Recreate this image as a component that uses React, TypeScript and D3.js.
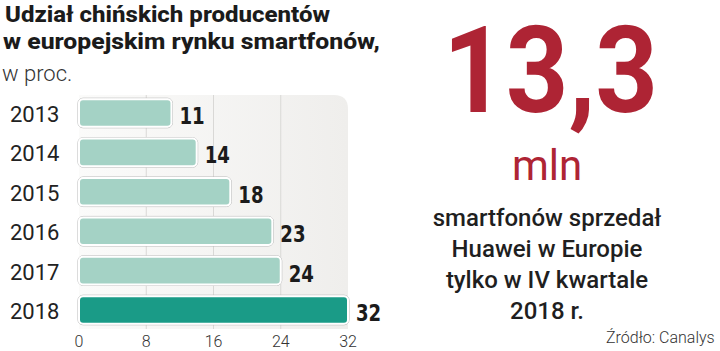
import React from "react";
import * as d3 from "d3";

const years = ["2013", "2014", "2015", "2016", "2017", "2018"];
const shares = [11, 14, 18, 23, 24, 32];
const xTicks = [0, 8, 16, 24, 32];
const titleLines = ["Udział chińskich producentów", "w europejskim rynku smartfonów,"];
const subtitle = "w proc.";
const bigNumber = "13,3";
const bigUnit = "mln";
const noteLines = ["smartfonów sprzedał", "Huawei w Europie", "tylko w IV kwartale", "2018 r."];
const source = "Źródło: Canalys";

const W = 720;
const H = 351;

export default function App() {
  const x = d3.scaleLinear().domain([0, 32]).range([79, 348]);
  const y = d3
    .scaleBand<string>()
    .domain(years)
    .range([93.3, 329.7])
    .paddingInner(0.3)
    .paddingOuter(0.15);

  const panelTop = 95;
  const panelBottom = 329;
  const x0 = x(0);
  const x1 = x(32);
  const r = 14;
  const panelPath =
    `M${x0},${panelTop} H${x1 - r} Q${x1},${panelTop} ${x1},${panelTop + r} ` +
    `V${panelBottom} H${x0} Z`;

  const sans = "Roboto, 'Noto Sans', sans-serif";
  const narrow = "'Liberation Sans Narrow', 'DejaVu Sans Condensed', sans-serif";
  const red = "#ae2434";

  return (
    <svg
      width={W}
      height={H}
      style={{ position: "absolute", left: 0, top: 0, background: "#fff" }}
    >
      <defs>
        <linearGradient id="panelGrad" x1="0" x2="1" y1="0" y2="0">
          <stop offset="0" stopColor="#fbfbfa" />
          <stop offset="1" stopColor="#efeeec" />
        </linearGradient>
      </defs>

      {/* title */}
      <g fontFamily={sans} fill="#1b1b1b">
        <text x={5} y={22} fontSize={22} fontWeight={800} textLength={325} lengthAdjust="spacingAndGlyphs">
          {titleLines[0]}
        </text>
        <text x={3} y={49} fontSize={22} fontWeight={800} textLength={377} lengthAdjust="spacingAndGlyphs">
          {titleLines[1]}
        </text>
        <text x={2} y={81} fontSize={22} fontWeight={300} fill="#333">
          {subtitle}
        </text>
      </g>

      {/* panel and grid */}
      <path d={panelPath} fill="url(#panelGrad)" />
      {xTicks.slice(1, -1).map((t) => (
        <line
          key={t}
          x1={x(t)}
          x2={x(t)}
          y1={panelTop}
          y2={panelBottom}
          stroke="#d9d8d6"
          strokeWidth={1}
        />
      ))}

      {/* bars */}
      {years.map((yr, i) => {
        const by = y(yr)!;
        const bh = y.bandwidth();
        const bw = x(shares[i]) - x0;
        const fill = yr === "2018" ? "#1a9b87" : "#a4d2c5";
        return (
          <g key={yr}>
            <rect
              x={x0 - 1}
              y={by - 1}
              width={bw + 2}
              height={bh + 2}
              rx={5}
              fill="none"
              stroke="#b9b9b9"
              strokeWidth={1}
            />
            <rect
              x={x0}
              y={by}
              width={bw}
              height={bh}
              rx={4}
              fill={fill}
              stroke="#fff"
              strokeWidth={2}
            />
            <text
              x={10}
              y={by + bh / 2 + 9}
              fontFamily={sans}
              fontSize={22}
              fill="#222"
            >
              {yr}
            </text>
            <text
              x={x(shares[i]) + 8}
              y={by + bh / 2 + 11}
              fontFamily={narrow}
              fontWeight={700}
              fontSize={23}
              fill="#1b1b1b"
              textLength={String(shares[i]).length * 12.6}
              lengthAdjust="spacingAndGlyphs"
            >
              {shares[i]}
            </text>
          </g>
        );
      })}

      {/* x axis labels */}
      {xTicks.map((t) => (
        <text
          key={t}
          x={x(t)}
          y={347}
          textAnchor="middle"
          fontFamily={sans}
          fontWeight={300}
          fontSize={16}
          fill="#333"
        >
          {t}
        </text>
      ))}

      {/* big number */}
      <text
        x={443}
        y={112}
        fontFamily={sans}
        fontWeight={700}
        fontSize={120}
        fill={red}
        textLength={215}
        lengthAdjust="spacingAndGlyphs"
      >
        {bigNumber}
      </text>
      <text
        x={547}
        y={180}
        textAnchor="middle"
        fontFamily={sans}
        fontSize={42}
        fill={red}
      >
        {bigUnit}
      </text>
      {noteLines.map((t, i) => (
        <text
          key={t}
          x={547}
          y={226 + i * 31}
          textAnchor="middle"
          fontFamily={sans}
          fontWeight={500}
          fontSize={24}
          fill="#1f1f1f"
        >
          {t}
        </text>
      ))}
      <text x={606} y={343} fontFamily={sans} fontWeight={300} fontSize={16} fill="#333">
        {source}
      </text>
    </svg>
  );
}
